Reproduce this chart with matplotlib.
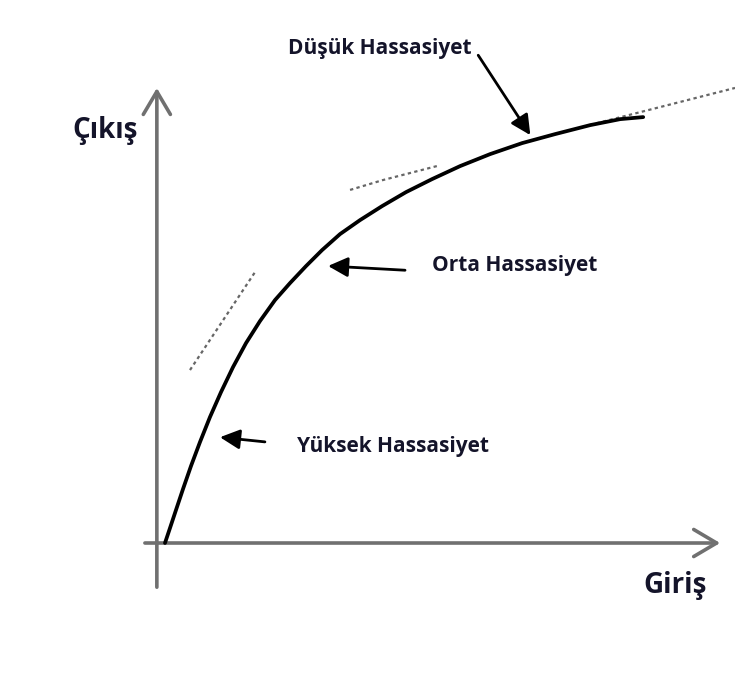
"""Sensitivity sketch: saturating output curve with tangent lines."""

import matplotlib

matplotlib.use("Agg")
import matplotlib.pyplot as plt

# input / output samples along the response curve
giris = [0.0, 0.105, 0.230, 0.377, 0.544, 0.732, 0.941, 1.172, 1.423, 1.695,
         1.987, 2.301, 2.615, 2.950, 3.285, 3.661, 4.079, 4.540, 5.042, 5.586,
         6.172, 6.799, 7.469, 8.159, 8.891, 9.519, 10.0]
cikis = [0.0, 0.353, 0.776, 1.271, 1.812, 2.376, 2.965, 3.553, 4.141, 4.706,
         5.224, 5.718, 6.118, 6.518, 6.894, 7.271, 7.600, 7.929, 8.259, 8.565,
         8.871, 9.153, 9.412, 9.624, 9.835, 9.976, 10.024]

# tangent guides for the three sensitivity regions
tangent_high_x = [0.523, 1.883]
tangent_high_y = [4.071, 6.376]
tangent_mid_x = [3.87, 4.55, 5.75]
tangent_mid_y = [8.31, 8.54, 8.89]
tangent_low_x = [8.89, 11.92]
tangent_low_y = [9.84, 10.71]

axis_label_x = "Giriş"
axis_label_y = "Çıkış"
region_labels = ["Düşük Hassasiyet", "Orta Hassasiyet", "Yüksek Hassasiyet"]
label_pos = [(4.50, 11.65), (7.32, 6.54), (4.77, 2.28)]
pointer_tail = [(6.55, 11.48), (5.02, 6.42), (2.09, 2.38)]
pointer_head = [(7.64, 9.60), (3.41, 6.52), (1.15, 2.49)]

TEXT = "#14142a"
AXIS = "#707070"

fig = plt.figure(figsize=(7.35, 6.76), dpi=100)
ax = fig.add_axes([0, 0, 1, 1])
ax.set_xlim(-3.45, 11.92)
ax.set_ylim(-3.13, 12.78)
ax.axis("off")

# axes drawn as open-headed arrows
axis_style = dict(arrowstyle="->,head_length=1.1,head_width=0.65",
                  color=AXIS, lw=2.6, mutation_scale=15, shrinkA=0, shrinkB=0)
ax.annotate("", xy=(-0.17, 10.71), xytext=(-0.17, -1.04), arrowprops=axis_style)
ax.annotate("", xy=(11.61, 0.0), xytext=(-0.42, 0.0), arrowprops=axis_style)

# tangents
for xs, ys in ((tangent_high_x, tangent_high_y),
               (tangent_mid_x, tangent_mid_y),
               (tangent_low_x, tangent_low_y)):
    ax.plot(xs, ys, color="#666666", lw=1.6, ls=(0, (1.5, 1.5)),
            dash_joinstyle="round", zorder=2)

ax.plot(giris, cikis, color="black", lw=2.7, solid_capstyle="round",
        solid_joinstyle="round", zorder=3)

font = dict(family=["Open Sans", "DejaVu Sans"], fontweight="bold", color=TEXT)
ax.text(-1.26, 9.72, axis_label_y, fontsize=20, ha="center", va="center", **font)
ax.text(10.67, -1.01, axis_label_x, fontsize=20, ha="center", va="center", **font)

for label, pos, tail, head in zip(region_labels, label_pos, pointer_tail, pointer_head):
    ax.text(pos[0], pos[1], label, fontsize=15, ha="center", va="center", **font)
    ax.annotate("", xy=head, xytext=tail,
                arrowprops=dict(arrowstyle="-|>,head_length=0.8,head_width=0.4",
                                color="black", lw=2.0, mutation_scale=15,
                                shrinkA=0, shrinkB=0))

fig.savefig("out.png", dpi=100, facecolor="white")
